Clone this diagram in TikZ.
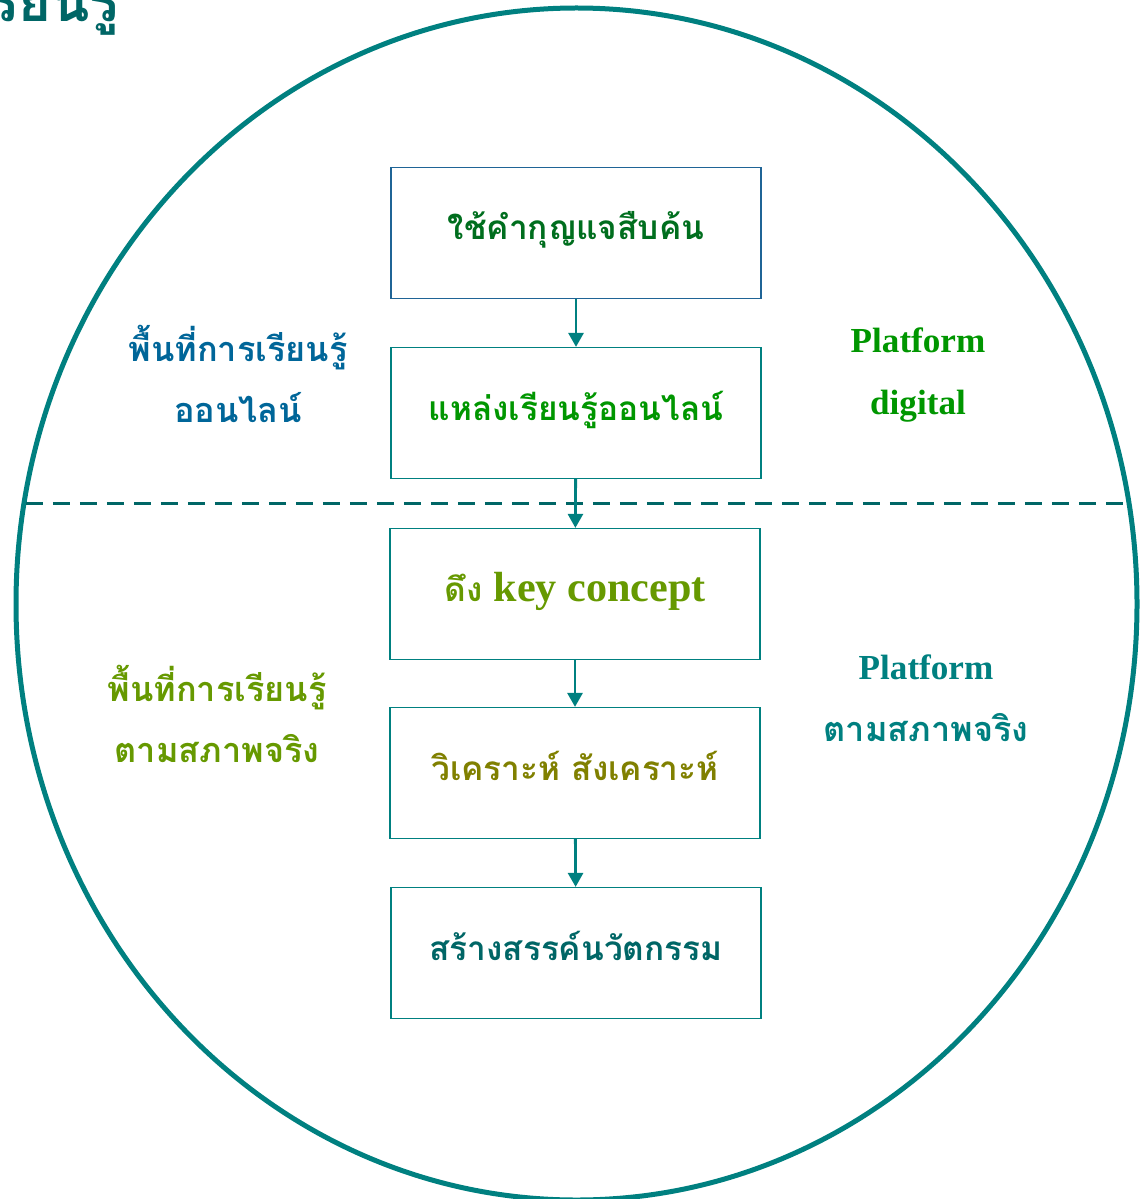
\documentclass[tikz,border=0pt]{standalone}
\usepackage{fontspec}
\setmainfont{Liberation Serif}
\newfontfamily\thaifont[Script=Thai]{Loma}
\usetikzlibrary{arrows.meta}

\definecolor{ringteal}{RGB}{0,128,128}
\definecolor{darkteal}{RGB}{0,102,102}
\definecolor{boxblue}{RGB}{31,100,150}
\definecolor{deepgreen}{RGB}{0,110,30}
\definecolor{leafgreen}{RGB}{0,150,0}
\definecolor{olivegreen}{RGB}{102,153,0}
\definecolor{olive}{RGB}{128,128,0}
\definecolor{seablue}{RGB}{0,102,153}

\tikzset{
    stepbox/.style={draw=ringteal, line width=0.7pt, minimum width=7.4cm,
        minimum height=2.62cm, font=\fontsize{19}{24}\selectfont\bfseries\thaifont,
        text depth=0.3cm},
    sidetext/.style={align=center, font=\fontsize{19.5}{35}\selectfont\bfseries\thaifont},
    flow/.style={ringteal, line width=1.6pt, -{Triangle[length=0.28cm, width=0.3cm]}}
}

\begin{document}
\begin{tikzpicture}[x=0.02cm, y=-0.02cm]
    \useasboundingbox (0, 0) rectangle (1142, 1199);

    % title, cut by the page
    \node[anchor=base east, darkteal, font=\fontsize{32}{34}\selectfont\bfseries\thaifont]
        (title) at (126, 22) {เรียนรู้};

    \draw[ringteal, line width=0.1cm] (576.5, 604) ellipse [x radius=560.5, y radius=596];

    \coordinate (cutL) at (26, 503);
    \coordinate (cutR) at (1130, 503);
    \draw[darkteal, line width=0.06cm, dash pattern=on 0.34cm off 0.2cm] (cutL) -- (cutR);

    \node[stepbox, draw=boxblue, text=deepgreen] (search) at (576, 233) {ใช้คำกุญแจสืบค้น};
    \node[stepbox, text=leafgreen] (source) at (576, 413) {แหล่งเรียนรู้ออนไลน์};
    \node[stepbox, text=olivegreen] (concept) at (575, 594)
        {ดึง {\fontsize{24}{28}\selectfont\rmfamily key concept}};
    \node[stepbox, text=olive] (analyse) at (575, 773) {วิเคราะห์ สังเคราะห์};
    \node[stepbox, text=darkteal] (create) at (576, 953) {สร้างสรรค์นวัตกรรม};

    \draw[flow] (search) -- (source);
    \draw[flow] (source) -- (concept);
    \draw[flow] (concept) -- (analyse);
    \draw[flow] (analyse) -- (create);

    \node[sidetext, text=seablue] (online) at (238, 374) {พื้นที่การเรียนรู้\\ออนไลน์};
    \node[sidetext, text=leafgreen, font=\fontsize{20}{35}\selectfont\bfseries\rmfamily]
        (digital) at (918, 375) {Platform\\digital};
    \node[sidetext, text=olivegreen] (real) at (217, 714) {พื้นที่การเรียนรู้\\ตามสภาพจริง};
    \node[sidetext, text=ringteal] (realplat) at (926, 698)
        {{\fontsize{20}{35}\selectfont\rmfamily Platform}\\ตามสภาพจริง};
\end{tikzpicture}
\end{document}
